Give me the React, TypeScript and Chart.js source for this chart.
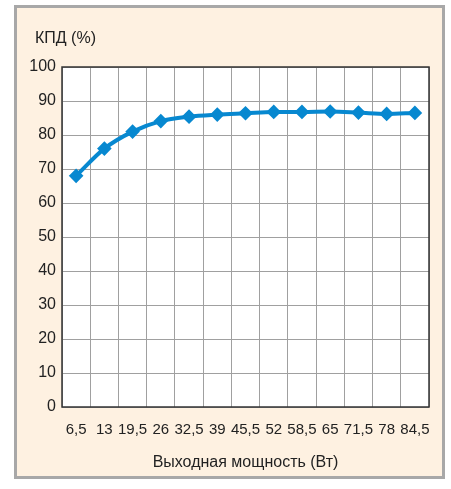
import React, { useEffect, useRef } from "react";
import { Chart, registerables } from "chart.js";

Chart.register(...registerables);

const categories = ["6,5", "13", "19,5", "26", "32,5", "39", "45,5", "52", "58,5", "65", "71,5", "78", "84,5"];
const efficiency = [68, 76, 81, 84.1, 85.4, 86, 86.4, 86.8, 86.8, 86.9, 86.6, 86.2, 86.5];
const yTicks = [0, 10, 20, 30, 40, 50, 60, 70, 80, 90, 100];
const yTitle = "КПД (%)";
const xTitle = "Выходная мощность (Вт)";

const FONT = "'Liberation Sans', Arial, sans-serif";

export default function App() {
  const ref = useRef<HTMLCanvasElement | null>(null);
  useEffect(() => {
    if (!ref.current) return;
    const framePlugin = {
      id: "framePlugin",
      beforeDraw(chart: any) {
        const { ctx, chartArea } = chart;
        ctx.save();
        ctx.fillStyle = "#ffffff";
        ctx.fillRect(chartArea.left, chartArea.top, chartArea.right - chartArea.left, chartArea.bottom - chartArea.top);
        ctx.restore();
      },
      afterDatasetsDraw(chart: any) {
        const { ctx, chartArea } = chart;
        ctx.save();
        ctx.strokeStyle = "#333333";
        ctx.lineWidth = 1.5;
        ctx.strokeRect(chartArea.left, chartArea.top, chartArea.right - chartArea.left, chartArea.bottom - chartArea.top);
        ctx.fillStyle = "#222222";
        ctx.font = "16px " + FONT;
        ctx.textAlign = "left";
        ctx.textBaseline = "middle";
        ctx.fillText(yTitle, 35, 39);
        ctx.restore();
      },
    };
    const chart = new Chart(ref.current, {
      type: "line",
      data: {
        labels: categories,
        datasets: [
          {
            data: efficiency,
            borderColor: "#0788d0",
            backgroundColor: "#0788d0",
            borderWidth: 4,
            pointStyle: "rectRot",
            pointRadius: 4.5,
            pointHoverRadius: 4.5,
            cubicInterpolationMode: "monotone",
            clip: false as any,
          },
        ],
      },
      options: {
        animation: false,
        responsive: false,
        events: [],
        layout: { padding: { top: 67, right: 22, bottom: 17, left: 0 } },
        plugins: { legend: { display: false }, tooltip: { enabled: false }, title: { display: false } },
        scales: {
          x: {
            offset: true,
            grid: { color: "#a0a0a0", lineWidth: 1, drawTicks: false, offset: true },
            border: { display: false },
            ticks: { color: "#222222", font: { size: 15, family: FONT }, padding: 14, maxRotation: 0, autoSkip: false },
            title: { display: true, text: xTitle, color: "#222222", font: { size: 16, family: FONT }, padding: { top: 4, bottom: 0 } },
            afterFit: (s: any) => { s.height = 65; },
          },
          y: {
            min: 0,
            max: 100,
            afterBuildTicks: (s: any) => { s.ticks = yTicks.map((v) => ({ value: v })); },
            grid: { color: "#a0a0a0", lineWidth: 1, drawTicks: false },
            border: { display: false },
            ticks: { color: "#222222", font: { size: 16, family: FONT }, padding: 6 },
            afterFit: (s: any) => { s.width = 62; },
          },
        },
      },
      plugins: [framePlugin],
    });
    return () => chart.destroy();
  }, []);
  return (
    <div style={{ position: "absolute", left: 0, top: 0, width: 451, height: 489 }}>
      <div
        style={{
          position: "absolute",
          left: 14,
          top: 5,
          width: 425,
          height: 468,
          border: "3px solid #a8a8a8",
          background: "#fef1e1",
        }}
      />
      <canvas ref={ref} width={451} height={489} style={{ position: "absolute", left: 0, top: 0 }} />
    </div>
  );
}
